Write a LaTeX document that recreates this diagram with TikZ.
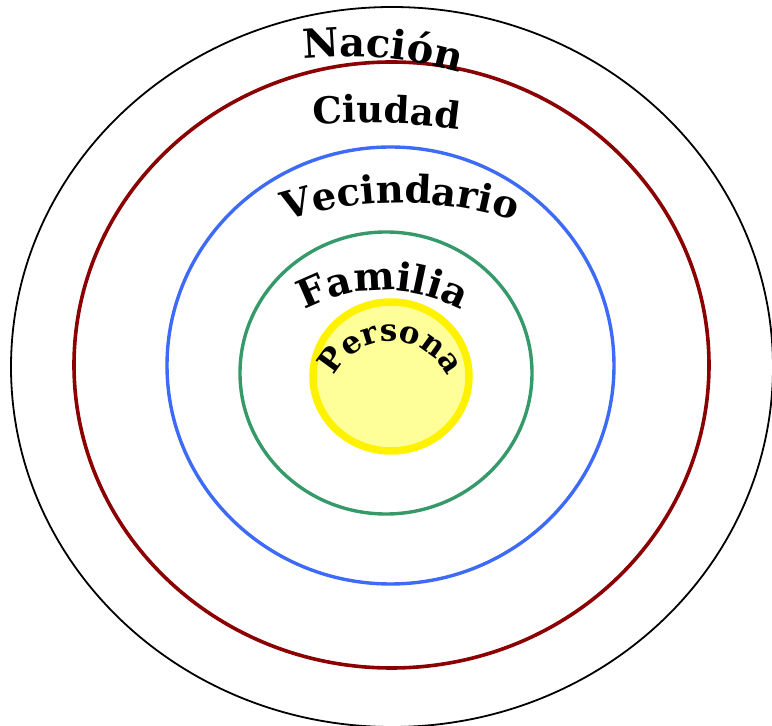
\documentclass[tikz,border=0pt]{standalone}
\usepackage{fontspec}
\setmainfont{DejaVu Serif}
\usepackage{tikz}
\usetikzlibrary{decorations.text}
\usepackage{xcolor}
\definecolor{nacionline}{HTML}{000000}
\definecolor{ciudadline}{HTML}{8B0000}
\definecolor{vecinoline}{HTML}{3D6BF7}
\definecolor{familialine}{HTML}{36996A}
\definecolor{personaline}{HTML}{FFF200}
\definecolor{personafill}{HTML}{FFFF99}

\tikzset{
  ring/.style={draw=#1},
  arclabel/.style n args={2}{decorate, decoration={text along path, text align=center,
      text={|\fontsize{#1}{#1}\selectfont\bfseries|#2}}}
}
% label along an arc: center x, center y, radius, mid angle, half span, size, text
\newcommand\ringlabel[7]{%
  \path[arclabel={#6}{#7}] ([shift={(#4+#5:#3)}]#1,#2) arc[start angle=#4+#5, end angle=#4-#5, radius=#3];}

\begin{document}
\begin{tikzpicture}[x=1pt, y=1pt]
  \useasboundingbox (0,0) rectangle (772,726);
  \coordinate (nacion) at (392,359);
  \coordinate (ciudad) at (391.5,361);
  \coordinate (vecindario) at (390.5,360.5);
  \coordinate (familia) at (386,353);
  \coordinate (persona) at (391,349.5);

  \draw[ring=nacionline, line width=1.8] (nacion) ellipse[x radius=381, y radius=360];
  \draw[ring=ciudadline, line width=3.6] (ciudad) ellipse[x radius=317.5, y radius=303];
  \draw[ring=vecinoline, line width=3.4] (vecindario) ellipse[x radius=223.5, y radius=218.5];
  \draw[ring=familialine, line width=3.4] (familia) ellipse[x radius=146, y radius=141];
  \draw[ring=personaline, fill=personafill, line width=7.5] (persona) ellipse[x radius=78, y radius=74.5];

  \ringlabel{345.4}{249.6}{420}{85}{30}{40}{Nación}
  \ringlabel{361.6}{-96.6}{700}{88}{15}{37}{Ciudad}
  \ringlabel{400}{143}{380}{90}{30}{38.5}{Vecindario}
  \ringlabel{383}{271}{165}{90}{50}{39}{Familia}
  \ringlabel{391}{323}{62}{90}{88}{31}{Persona}
\end{tikzpicture}
\end{document}
